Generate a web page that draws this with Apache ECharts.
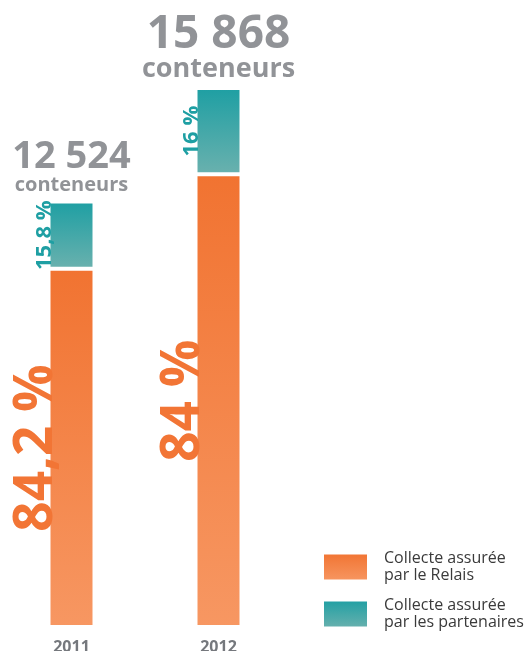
<!DOCTYPE html>
<html>
<head>
<meta charset="utf-8">
<style>
  html, body { margin: 0; padding: 0; background: #fff; }
  #chart { width: 528px; height: 651px; }
</style>
<script src="https://cdn.jsdelivr.net/npm/echarts@6/dist/echarts.min.js"></script>
</head>
<body>
<div id="chart"></div>
<script>
const years = ["2011", "2012"];
const totals = [12524, 15868];
const relais = [10545, 13329];
const partenaires = [1979, 2539];
const relaisLabels = ["84,2 %", "84 %"];
const partenairesLabels = ["15,8 %", "16 %"];
const legendNames = ["Collecte assurée\npar le Relais", "Collecte assurée\npar les partenaires"];

const gray = "#75787d";
const orange = new echarts.graphic.LinearGradient(0, 0, 0, 1, [
    { offset: 0, color: "#f17331" },
    { offset: 1, color: "#f79762" },
]);
const teal = new echarts.graphic.LinearGradient(0, 0, 0, 1, [
    { offset: 0, color: "#1e9fa3" },
    { offset: 1, color: "#6ab1ae" },
]);

function fmt(n) {
    return String(n).replace(/\B(?=(\d{3})+(?!\d))/g, " ");
}

const chart = echarts.init(document.getElementById("chart"));
chart.setOption({
    animation: false,
    textStyle: { fontFamily: "Open Sans" },
    grid: { left: -2, width: 294, top: 88, bottom: 24, outerBoundsMode: "none", containLabel: false },
    legend: {
        data: legendNames,
        orient: "vertical",
        left: 322,
        top: 550,
        padding: 0,
        icon: "rect",
        itemWidth: 45,
        itemHeight: 27,
        itemGap: 13,
        textStyle: { fontSize: 16, lineHeight: 17, color: "#3a3a3a", padding: [0, 0, 0, 11] },
    },
    xAxis: {
        type: "category",
        data: years,
        axisLine: { show: false },
        axisTick: { show: false },
        axisLabel: { color: gray, fontSize: 16, fontWeight: "bold", margin: 12 },
    },
    yAxis: {
        type: "value",
        min: 0,
        max: Math.max(...totals),
        show: false,
        splitLine: { show: false },
    },
    series: [
        {
            name: legendNames[0],
            type: "bar",
            stack: "c",
            barWidth: 46,
            data: relais,
            itemStyle: { color: orange, borderColor: "#fff", borderWidth: 2 },
            label: {
                show: true,
                position: [-12, "50%"],
                rotate: 90,
                align: "center",
                verticalAlign: "middle",
                color: "#f27535",
                fontSize: 53,
                fontWeight: "bold",
                formatter: (p) => relaisLabels[p.dataIndex],
            },
        },
        {
            name: legendNames[1],
            type: "bar",
            stack: "c",
            data: partenaires,
            itemStyle: { color: teal, borderColor: "#fff", borderWidth: 2 },
            label: {
                show: true,
                position: [-4, "50%"],
                rotate: 90,
                align: "center",
                verticalAlign: "middle",
                color: "#1e9fa3",
                fontSize: 22,
                fontWeight: "bold",
                formatter: (p) => partenairesLabels[p.dataIndex],
            },
        },
        {
            type: "scatter",
            data: totals,
            symbolSize: 0,
            silent: true,
            label: {
                show: true,
                position: "top",
                distance: 6,
                align: "center",
                color: gray,
                fontWeight: "bold",
                formatter: (p) => `{n${p.dataIndex}|${fmt(p.value)}}\n{c${p.dataIndex}|conteneurs}`,
                rich: {
                    n0: { fontSize: 38, lineHeight: 36, fontWeight: "bold", color: gray },
                    c0: { fontSize: 20, lineHeight: 20, fontWeight: "bold", color: gray },
                    n1: { fontSize: 46, lineHeight: 42, fontWeight: "bold", color: gray },
                    c1: { fontSize: 27, lineHeight: 26, fontWeight: "bold", color: gray },
                },
            },
        },
    ],
});
</script>
</body>
</html>
